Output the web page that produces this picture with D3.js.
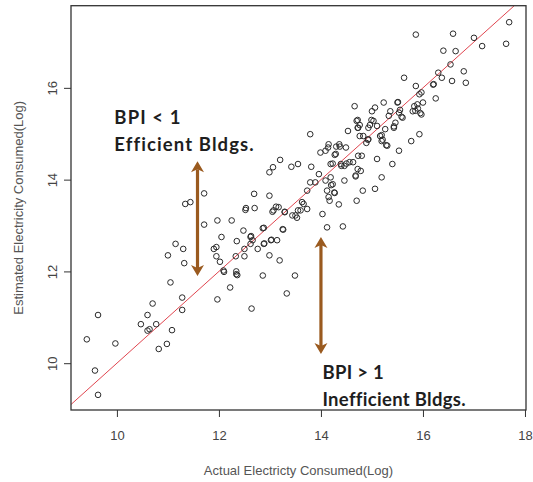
<!DOCTYPE html>
<html>
<head>
<meta charset="utf-8">
<script src="https://cdn.jsdelivr.net/npm/d3@7"></script>
<style>
  html, body { margin: 0; padding: 0; background: #fff; }
  svg { display: block; }
</style>
</head>
<body>
<script>
// ---- data ----
const actual = [
  9.41, 9.63, 9.57, 9.63, 9.97, 10.47, 10.60, 10.70, 10.60, 10.64, 10.77, 10.82, 10.98, 11.08, 11.05, 11.28, 11.28,
  11.00, 11.15, 11.30, 11.32, 11.34, 11.44, 11.71, 11.71, 11.97, 12.25, 11.90, 11.95, 11.95, 12.02, 12.05, 12.09,
  12.10, 11.97, 12.22, 12.34, 12.36, 12.33, 12.35, 12.48, 12.50, 12.50, 12.52, 12.70, 12.69, 12.62, 12.66, 12.62,
  12.76, 12.64, 12.86, 12.88, 12.88, 12.99, 12.99, 12.99, 13.06, 13.02, 13.14, 13.07, 13.17, 13.20, 13.19, 13.26,
  13.33, 13.49, 13.29, 13.42, 13.55, 13.44, 13.50, 13.55, 13.60, 13.63, 13.66, 13.73, 13.53, 13.73, 13.79, 13.81,
  13.79, 13.89, 13.96, 13.99, 14.03, 14.09, 14.14, 14.15, 14.12, 14.09, 14.12, 14.15, 14.17, 14.19, 14.23, 14.26,
  14.19, 14.23, 14.29, 14.35, 14.43, 14.36, 14.39, 14.46, 14.46, 14.49, 14.53, 14.56, 14.63, 14.66, 14.68, 14.70,
  14.70, 14.73, 14.73, 14.76, 14.78, 14.80, 14.82, 14.83, 14.93, 14.93, 15.00, 15.03, 15.06, 15.10, 15.06, 15.10,
  15.16, 15.19, 15.19, 15.23, 15.26, 15.30, 15.33, 15.36, 15.40, 15.43, 15.46, 15.50, 15.53, 15.53, 15.60, 15.63,
  15.77, 15.80, 15.83, 15.86, 15.86, 15.89, 15.93, 15.93, 15.97, 16.00, 16.20, 16.25, 16.30, 16.37, 16.40, 16.54,
  16.57, 16.64, 16.59, 16.80, 16.84, 17.00, 17.16, 17.63, 17.69,
  14.40, 14.50, 14.20, 14.27, 14.72, 14.68, 14.92, 14.89, 15.19, 15.21, 15.28, 14.99, 14.96, 15.85, 15.90, 15.95,
  15.97, 16.21, 14.72, 14.76, 14.72, 15.51, 15.55, 15.58, 15.43, 14.30, 14.27, 14.37, 12.53, 13.12, 13.05, 13.29,
  12.63, 12.89, 13.03, 12.86, 13.25, 12.34
];
const estimated = [
  10.52, 11.05, 9.84, 9.31, 10.43, 10.85, 11.05, 11.30, 10.71, 10.74, 10.85, 10.31, 10.42, 10.72, 11.76, 11.43, 11.16,
  12.35, 12.60, 12.49, 12.18, 13.47, 13.51, 13.70, 13.02, 13.11, 13.11, 12.49, 12.53, 12.33, 12.21, 12.75, 12.02,
  11.99, 11.39, 11.65, 11.94, 11.92, 12.33, 12.66, 12.89, 12.33, 12.49, 13.34, 13.38, 13.69, 12.75, 12.68, 12.60,
  12.49, 11.19, 11.91, 12.95, 12.60, 13.65, 12.35, 14.16, 14.27, 12.68, 12.68, 13.33, 13.40, 14.43, 12.24, 12.91,
  11.52, 11.91, 13.29, 14.28, 14.34, 13.22, 13.22, 13.33, 13.33, 13.51, 13.47, 13.36, 13.17, 13.76, 14.99, 14.28,
  13.94, 13.94, 14.12, 14.59, 13.25, 14.63, 14.70, 14.77, 12.96, 13.98, 13.76, 13.62, 13.54, 14.05, 13.90, 13.72,
  14.34, 14.35, 14.56, 13.46, 12.98, 14.77, 14.34, 14.30, 13.98, 14.70, 15.06, 14.38, 14.38, 15.60, 14.09, 15.28,
  13.54, 15.13, 14.52, 14.95, 14.19, 14.52, 13.76, 14.95, 15.13, 14.88, 15.49, 15.28, 15.57, 15.17, 13.80, 14.45,
  14.95, 14.84, 14.05, 15.68, 15.10, 14.74, 15.39, 15.49, 14.34, 15.13, 15.24, 15.68, 14.63, 15.46, 15.35, 16.22,
  14.84, 15.49, 15.60, 17.16, 16.04, 15.64, 14.99, 15.86, 15.42, 15.68, 16.07, 15.77, 16.33, 16.22, 16.81, 16.51,
  16.15, 16.80, 17.18, 16.36, 16.11, 17.09, 16.91, 16.96, 17.43,
  14.30, 14.35, 13.88, 13.71, 14.23, 14.07, 14.87, 14.80, 14.97, 14.87, 14.75, 15.30, 15.19, 15.50, 15.55, 15.45,
  15.90, 16.08, 15.30, 15.19, 15.13, 15.69, 15.52, 15.37, 15.16, 14.72, 14.54, 14.72, 13.38, 13.41, 13.30, 13.30,
  12.77, 12.61, 12.69, 12.94, 12.92, 12.00
];
const xTicks = [10, 12, 14, 16, 18];
const yTicks = [10, 12, 14, 16];
const xTitle = "Actual Electricty Consumed(Log)";
const yTitle = "Estimated Electricity Consumed(Log)";
// annotation arrows (data units): x, top, bottom
const arrowX = [11.58, 14.0];
const arrowTop = [14.4, 12.75];
const arrowBottom = [11.9, 10.2];
// annotation labels (data units)
const noteText = [["BPI < 1", "Efficient Bldgs."], ["BPI > 1", "Inefficient Bldgs."]];
const noteX = [9.95, 14.03];
const noteY = [15.21, 9.66];

// ---- layout ----
const W = 533, H = 482;
const L = 71, R = 526, T = 5.7, B = 410;
const noteSpacing = [1.1, 0.3];

const svg = d3.select("body").append("svg").attr("width", W).attr("height", H);

const x = d3.scaleLinear().domain([9.10, 18.02]).range([L, R]);
const y = d3.scaleLinear().domain([8.98, 17.79]).range([B, T]);

svg.append("defs").append("clipPath").attr("id", "clip")
  .append("rect").attr("x", L).attr("y", T).attr("width", R - L).attr("height", B - T);

// reference line y = x
svg.append("line")
  .attr("clip-path", "url(#clip)")
  .attr("x1", x(9.10)).attr("y1", y(9.10)).attr("x2", x(18.02)).attr("y2", y(18.02))
  .attr("stroke", "#e0454f").attr("stroke-width", 1);

// points
const pts = actual.map((a, i) => [a, estimated[i]]);
svg.append("g").selectAll("circle").data(pts).join("circle")
  .attr("cx", d => x(d[0])).attr("cy", d => y(d[1])).attr("r", 2.8)
  .attr("fill", "none").attr("stroke", "#2a2a2a").attr("stroke-width", 1);

// arrows
const brown = "#9a5a1f";
const ag = svg.append("g");
arrowX.forEach((ax, i) => {
  const cx = x(ax), yt = y(arrowTop[i]), yb = y(arrowBottom[i]);
  const hl = 11, hw = 6.5, notch = 3;
  ag.append("line").attr("x1", cx).attr("x2", cx).attr("y1", yt + hl - notch).attr("y2", yb - hl + notch)
    .attr("stroke", brown).attr("stroke-width", 3.2);
  ag.append("path")
    .attr("d", `M${cx},${yt} L${cx + hw},${yt + hl} L${cx},${yt + hl - notch} L${cx - hw},${yt + hl} Z`)
    .attr("fill", brown);
  ag.append("path")
    .attr("d", `M${cx},${yb} L${cx + hw},${yb - hl} L${cx},${yb - hl + notch} L${cx - hw},${yb - hl} Z`)
    .attr("fill", brown);
});

// notes
noteText.forEach((lines, i) => {
  const t = svg.append("text")
    .attr("x", x(noteX[i])).attr("y", y(noteY[i]))
    .attr("font-family", "Lato, 'Open Sans', sans-serif")
    .attr("font-weight", "bold").attr("font-size", 18.5).attr("letter-spacing", noteSpacing[i])
    .attr("fill", "#1e1e1e");
  t.append("tspan").attr("x", x(noteX[i])).text(lines[0]);
  t.append("tspan").attr("x", x(noteX[i])).attr("dy", 27).text(lines[1]);
});

// box
svg.append("rect").attr("x", L).attr("y", T).attr("width", R - L).attr("height", B - T)
  .attr("fill", "none").attr("stroke", "#333").attr("stroke-width", 1.3);

// axes
const font = "'Liberation Sans', Arial, sans-serif";
const xa = svg.append("g").attr("transform", `translate(0,${B})`)
  .call(d3.axisBottom(x).tickValues(xTicks).tickSize(7).tickPadding(14).tickFormat(d3.format("d")));
xa.select(".domain").remove();
xa.selectAll(".tick line").attr("stroke", "#333");
xa.selectAll("text").attr("font-family", font).attr("font-size", 13).attr("fill", "#444");

const ya = svg.append("g").attr("transform", `translate(${L},0)`)
  .call(d3.axisLeft(y).tickValues(yTicks).tickSize(7).tickFormat(d3.format("d")));
ya.select(".domain").remove();
ya.selectAll(".tick line").attr("stroke", "#333");
ya.selectAll("text")
  .attr("transform", "rotate(-90)").attr("x", 0).attr("y", -14).attr("dy", 0)
  .attr("text-anchor", "middle")
  .attr("font-family", font).attr("font-size", 13).attr("fill", "#444");

// titles
svg.append("text").attr("x", (L + R) / 2).attr("y", 475).attr("text-anchor", "middle")
  .attr("font-family", font).attr("font-size", 13).attr("fill", "#555").text(xTitle);
svg.append("text").attr("transform", `translate(23,${(T + B) / 2}) rotate(-90)`)
  .attr("text-anchor", "middle")
  .attr("font-family", font).attr("font-size", 13).attr("fill", "#555").text(yTitle);
</script>
</body>
</html>
